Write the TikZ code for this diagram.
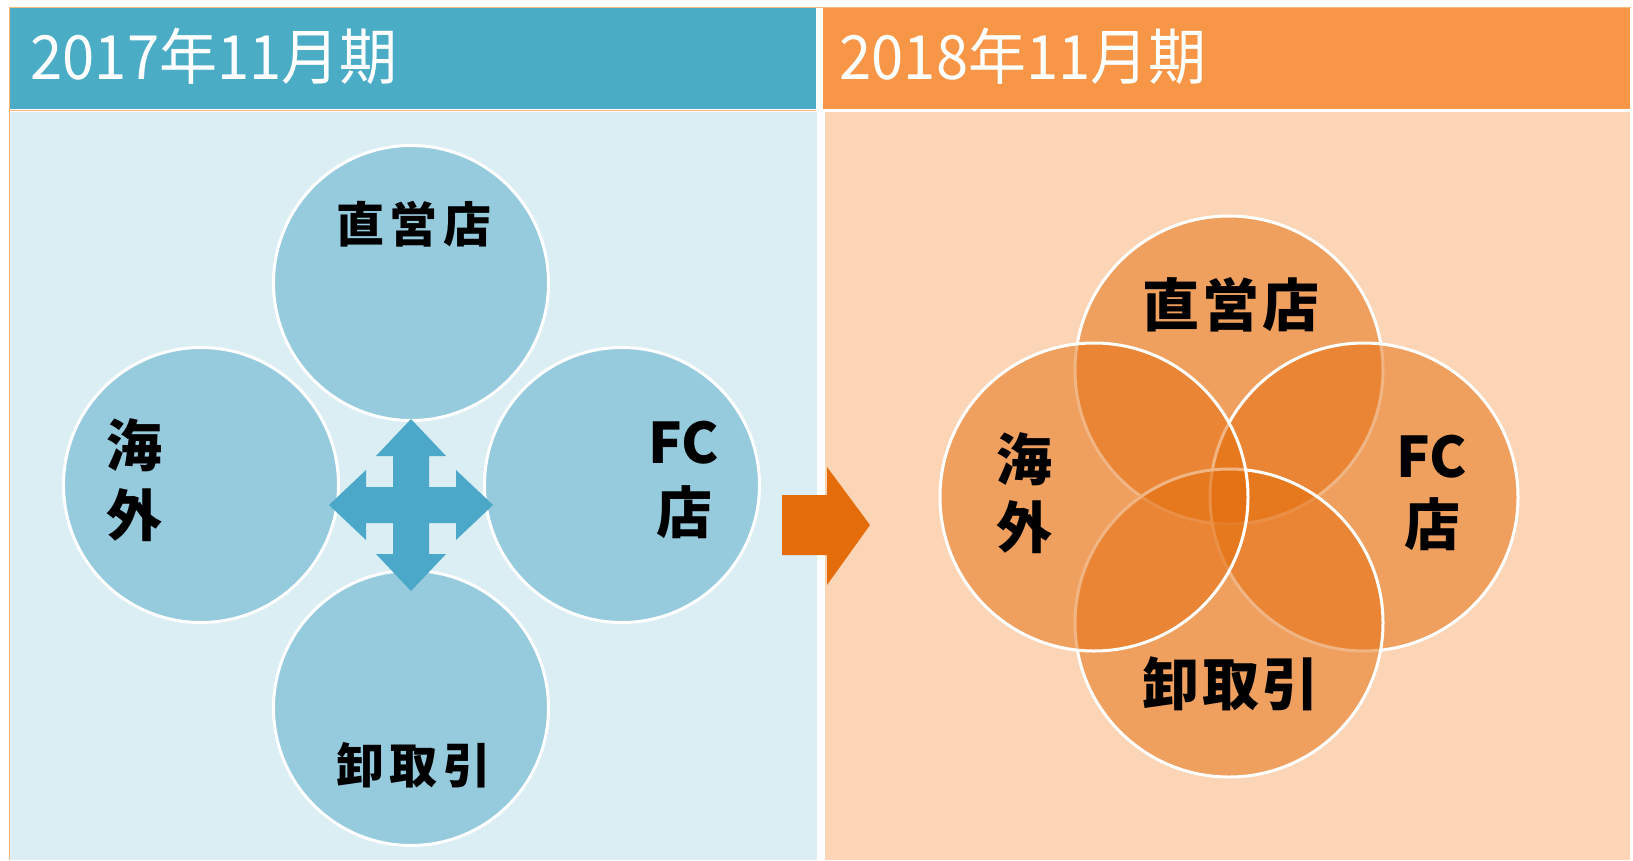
\documentclass[tikz,border=0pt]{standalone}
\usepackage{fontspec}
\setmainfont{Noto Sans CJK JP}
\newfontfamily\hdrfont{Noto Sans CJK JP}[FakeStretch=0.95]
\usetikzlibrary{positioning}
\definecolor{hdrblue}{HTML}{4BACC6}
\definecolor{hdrorange}{HTML}{F79646}
\definecolor{bodyblue}{HTML}{DBEEF4}
\definecolor{bodyorange}{HTML}{FBD5B5}
\definecolor{circblue}{HTML}{96CADD}
\definecolor{arrblue}{HTML}{4BA8C8}
\definecolor{arrorange}{HTML}{E46C0A}
\tikzset{
  hdrtext/.style={anchor=west, text=white, font=\hdrfont\fontsize{61}{64}\selectfont},
  bluecirc/.style={circle, minimum size=275pt, inner sep=0pt, fill=circblue, draw=white, line width=3pt},
  orcirc/.style={circle, minimum size=308pt, inner sep=0pt, fill=arrorange, fill opacity=0.5, draw=white, draw opacity=1, line width=3pt},
  lbl/.style={font=\bfseries\fontsize{48}{52}\selectfont\addfontfeature{LetterSpace=12}, text=black, inner sep=0pt},
  lblv/.style={font=\bfseries\fontsize{56}{60}\selectfont, text=black, inner sep=0pt, align=center},
  lblbig/.style={font=\bfseries\fontsize{57}{60}\selectfont\addfontfeature{LetterSpace=6}, text=black, inner sep=0pt},
}
\begin{document}
\begin{tikzpicture}[x=1pt,y=-1pt]
\useasboundingbox (0,0) rectangle (1633,860);
\fill[white] (0,0) rectangle (1633,860);
% panels
\fill[bodyblue] (10,112) rectangle (817,860);
\fill[bodyorange] (825,112) rectangle (1630,860);
\fill[hdrblue] (10,8) rectangle (816,109);
\fill[hdrorange] (823,8) rectangle (1630,109);
\draw[hdrorange!70, line width=1pt] (9,7) -- (1631,7);
\draw[hdrorange!70, line width=1pt] (9,7) -- (9,860);
\draw[hdrorange!70, line width=1pt] (9,110.5) -- (816,110.5);
\node[hdrtext] (h1) at (27,56) {2017年11月期};
\node[hdrtext] (h2) at (836,56) {2018年11月期};
% left circles
\node[bluecirc] (ct) at (411,283) {};
\node[bluecirc] (cl) at (201,485) {};
\node[bluecirc] (cr) at (622,485) {};
\node[bluecirc] (cb) at (411,708) {};
\node[lbl] (t1) at (414,224) {直営店};
\node[lblv] (t2) at (134,480) {海\\[10pt]外};
\node[lblv] (t3) at (684,480) {FC\\[10pt]店};
\node[lbl] (t4) at (414,765) {卸取引};
% four-way arrow
\begin{scope}[shift={(411,505)}]
\fill[arrblue] (0,-86) -- (35,-49) -- (18,-49) -- (18,-18) -- (45,-18) -- (45,-35) -- (82,0)
  -- (45,35) -- (45,18) -- (18,18) -- (18,49) -- (35,49) -- (0,86) -- (-35,49) -- (-18,49)
  -- (-18,18) -- (-45,18) -- (-45,35) -- (-82,0) -- (-45,-35) -- (-45,-18) -- (-18,-18)
  -- (-18,-49) -- (-35,-49) -- cycle;
\end{scope}
\node[inner sep=0pt, minimum size=0pt] (quad) at (411,505) {};
% center arrow
\fill[arrorange] (782,495) -- (827,495) -- (827,467) -- (870,525) -- (827,585) -- (827,555) -- (782,555) -- cycle;
\node[inner sep=0pt] (midarrow) at (827,525) {};
% right circles
\node[orcirc] (rt) at (1229,370) {};
\node[orcirc] (rr) at (1364,497) {};
\node[orcirc] (rb) at (1229,623) {};
\node[orcirc] (rl) at (1094,497) {};
\node[lblbig] (u1) at (1231,305) {直営店};
\node[lblv] (u2) at (1024,493) {海\\[8pt]外};
\node[lblv] (u3) at (1432,493) {FC\\[8pt]店};
\node[lblbig] (u4) at (1231,684) {卸取引};
\end{tikzpicture}
\end{document}
